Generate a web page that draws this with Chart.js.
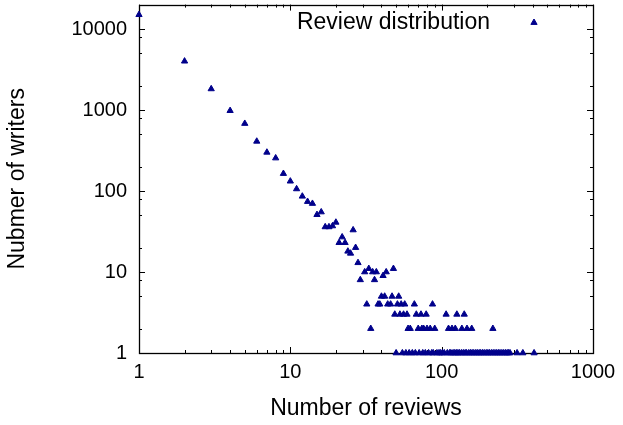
<!DOCTYPE html>
<html>
<head>
<meta charset="utf-8">
<script src="https://cdn.jsdelivr.net/npm/chart.js@4/dist/chart.umd.min.js"></script>
<style>
html,body{margin:0;padding:0;background:#fff;}
#wrap{width:623px;height:425px;}
</style>
</head>
<body>
<div id="wrap"><canvas id="c" width="623" height="425"></canvas></div>
<script>
// ---- data ----
const seriesName = 'Review distribution';
const xTitle = 'Number of reviews';
const yTitle = 'Nubmer of writers';

const reviews = [
  1,2,3,4,5,6,7,8,9,10,
  11,12,13,14,15,16,17,18,19,20,
  21,22,23,24,25,26,27,28,29,31,
  32,33,34,35,36,37,38,39,40,41,
  42,43,44,46,47,48,49,50,51,52,
  53,54,55,56,57,58,59,60,61,62,
  64,66,67,68,70,71,73,74,75,76,
  78,79,80,82,84,86,87,88,90,93,
  96,98,101,104,107,109,111,113,115,117,
  119,122,123,125,126,128,131,135,136,139,
  141,143,146,147,151,155,158,159,163,168,
  172,177,181,186,191,197,202,207,213,218,
  219,225,231,237,243,250,257,264,271,277,
  283,315,344,408
];
const writers = [
  15000,4000,1820,980,680,410,300,255,164,132,
  106,86,74,70,51,55,36,36,37,41,
  23,27,23,18,17,33,20,13,8,10,
  4,11,2,10,8,10,4,4,5,9,
  5,10,4,4,5,11,3,1,4,5,
  3,4,1,3,4,1,3,2,1,2,
  1,4,1,3,2,1,3,2,1,2,
  1,3,2,1,2,1,4,1,2,1,
  1,1,1,1,3,1,2,1,1,2,
  1,1,2,1,3,1,1,1,2,1,
  3,1,1,2,1,1,2,1,1,1,
  1,1,1,1,1,1,1,1,1,2,
  1,1,1,1,1,1,1,1,1,1,
  1,1,1,1
];

const xTicks = [1, 10, 100, 1000];
const yTicks = [1, 10, 100, 1000, 10000];
const xMinorSteps = [2, 3, 4, 5, 6, 7, 8, 9];
const yMinorSteps = [2, 5, 8];
const xRange = [1, 1000];
const yRange = [1, 20000];

// ---- styles ----
const FONT = "'Liberation Sans', Arial, Helvetica, sans-serif";
const MARK = '#00008b';

const points = reviews.map((r, i) => ({ x: r, y: writers[i] }));

function minorValues(majors, steps) {
  const out = [];
  majors.forEach(m => steps.forEach(s => out.push(m * s)));
  return out;
}

const framePlugin = {
  id: 'gnuplotFrame',
  beforeDatasetsDraw(chart) {
    const { ctx, chartArea: a, scales: { x, y } } = chart;
    ctx.save();
    ctx.strokeStyle = '#000';
    ctx.lineWidth = 1;
    ctx.beginPath();
    const MAJ = 6, MIN = 3;
    // x ticks (bottom + mirrored top)
    xTicks.forEach(v => {
      const p = Math.round(x.getPixelForValue(v)) + 0.5;
      ctx.moveTo(p, a.bottom); ctx.lineTo(p, a.bottom - MAJ);
      ctx.moveTo(p, a.top); ctx.lineTo(p, a.top + MAJ);
    });
    minorValues(xTicks, xMinorSteps).forEach(v => {
      if (v < xRange[0] || v > xRange[1]) return;
      const p = Math.round(x.getPixelForValue(v)) + 0.5;
      ctx.moveTo(p, a.bottom); ctx.lineTo(p, a.bottom - MIN);
      ctx.moveTo(p, a.top); ctx.lineTo(p, a.top + MIN);
    });
    // y ticks (left + mirrored right)
    yTicks.forEach(v => {
      const p = Math.round(y.getPixelForValue(v)) + 0.5;
      ctx.moveTo(a.left, p); ctx.lineTo(a.left + MAJ, p);
      ctx.moveTo(a.right, p); ctx.lineTo(a.right - MAJ, p);
    });
    minorValues(yTicks, yMinorSteps).forEach(v => {
      if (v < yRange[0] || v > yRange[1]) return;
      const p = Math.round(y.getPixelForValue(v)) + 0.5;
      ctx.moveTo(a.left, p); ctx.lineTo(a.left + MIN, p);
      ctx.moveTo(a.right, p); ctx.lineTo(a.right - MIN, p);
    });
    ctx.stroke();
    ctx.lineWidth = 1.3;
    ctx.strokeRect(Math.round(a.left) + 0.5, Math.round(a.top) + 0.5,
                   Math.round(a.right - a.left), Math.round(a.bottom - a.top));
    ctx.restore();
  },
  afterDraw(chart) {
    const { ctx, chartArea: a } = chart;
    ctx.save();
    ctx.font = '23px ' + FONT;
    ctx.fillStyle = '#000';
    ctx.textAlign = 'right';
    ctx.textBaseline = 'middle';
    const ly = a.top + 18;
    ctx.fillText(seriesName, a.right - 103, ly);
    ctx.fillStyle = MARK;
    ctx.strokeStyle = MARK;
    Chart.helpers.drawPoint(ctx, { pointStyle: 'triangle', radius: 3.6, borderWidth: 1, rotation: 0 }, a.right - 59, ly);
    ctx.restore();
  }
};

new Chart(document.getElementById('c'), {
  type: 'scatter',
  data: {
    datasets: [{
      label: seriesName,
      data: points,
      pointStyle: 'triangle',
      pointRadius: 3.6,
      pointHoverRadius: 3.6,
      backgroundColor: MARK,
      borderColor: MARK,
      borderWidth: 1,
      clip: false
    }]
  },
  options: {
    responsive: false,
    animation: false,
    devicePixelRatio: 1,
    layout: { padding: { top: 3, right: 30, left: 0, bottom: 0 } },
    plugins: { legend: { display: false }, tooltip: { enabled: false } },
    scales: {
      x: {
        type: 'logarithmic',
        position: 'bottom',
        min: xRange[0], max: xRange[1],
        grid: { display: false, drawTicks: false },
        border: { display: false },
        afterBuildTicks: s => { s.ticks = xTicks.map(v => ({ value: v })); },
        afterFit: s => { s.height = 72; s.paddingLeft = 0; s.paddingRight = 0; s.paddingTop = 0; s.paddingBottom = 0; },
        ticks: {
          autoSkip: false, maxRotation: 0, padding: 7,
          color: '#000', font: { family: FONT, size: 20 },
          callback: v => String(v)
        },
        title: { display: true, text: xTitle, color: '#000', font: { family: FONT, size: 23 }, padding: { top: 0, bottom: 3 } }
      },
      y: {
        type: 'logarithmic',
        position: 'left',
        min: yRange[0], max: yRange[1],
        grid: { display: false, drawTicks: false },
        border: { display: false },
        afterBuildTicks: s => { s.ticks = yTicks.map(v => ({ value: v })); },
        afterFit: s => { s.width = 139; s.paddingLeft = 0; s.paddingRight = 0; s.paddingTop = 0; s.paddingBottom = 0; },
        ticks: {
          autoSkip: false, padding: 12,
          color: '#000', font: { family: FONT, size: 20 },
          callback: v => String(v)
        },
        title: { display: true, text: yTitle, color: '#000', font: { family: FONT, size: 23 }, padding: { top: 4, bottom: 0 } }
      }
    }
  },
  plugins: [framePlugin]
});
</script>
</body>
</html>
